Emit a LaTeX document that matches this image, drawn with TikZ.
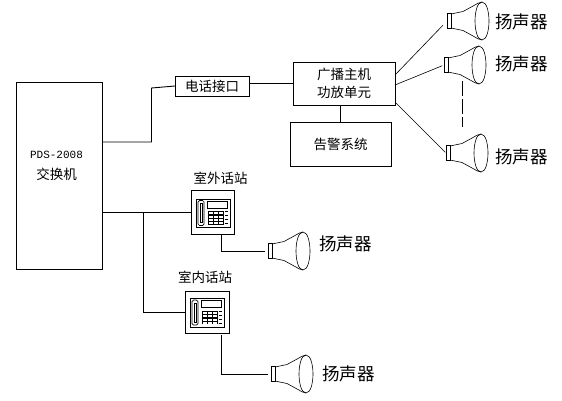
\documentclass[tikz,border=0pt]{standalone}
\usepackage{fontspec}
\newfontfamily\cjk{Noto Sans CJK SC}
\setmonofont{Liberation Mono}
\usetikzlibrary{positioning}

\begin{document}
\begin{tikzpicture}[
    x=1pt, y=-1pt,
    line width=0.9pt,
    font=\cjk\fontsize{13.5}{18}\selectfont,
    box/.style={draw, minimum width=#1, align=center, inner sep=0pt, outer sep=0pt},
    label/.style={inner sep=0pt, outer sep=0pt, align=center},
    spklabel/.style={label, font=\cjk\fontsize{17.5}{18}\selectfont},
    flow/.style={line width=0.9pt},
    thin flow/.style={line width=0.6pt},
    speaker/.pic={
      \draw[line width=0.6pt] (-35,-7.5) rectangle (-31,7.5);
      \draw[line width=0.6pt] (-31,-7) -- (-19,-9.5) -- (-8,-15.5) .. controls (-5,-17.5) and (-3,-18.5) .. (0,-19)
        .. controls (5,-19) and (7,-8) .. (7,0) .. controls (7,8) and (5,19) .. (0,19)
        .. controls (-3,18.5) and (-5,17.5) .. (-8,15.5) -- (-19,9.5) -- (-31,7);
      \draw[line width=0.6pt] (0,-19) .. controls (-5,-19) and (-7,-8) .. (-7,0) .. controls (-7,8) and (-5,19) .. (0,19);
      \coordinate (-neck) at (-35,0);
      \coordinate (-rim) at (7,0);
    },
    deskphone/.pic={
      \draw[line width=0.8pt] (-17,-13.5) rectangle (17,15);
      \draw[line width=0.7pt, rounded corners=1.5pt] (-15,-12) rectangle (-9,13);
      \draw[line width=0.7pt] (-13,-9) rectangle (-10.5,10);
      \draw[line width=0.7pt] (-6,-11.5) rectangle (14,-4.5);
      \fill (-5,-1.5) rectangle (10.5,12);
      \foreach \kx in {-4,1,6} \foreach \ky in {-0.5,3,6.5,9.5}
        \fill[white] (\kx,\ky) rectangle +(3.6,2.2);
      \foreach \ky in {-1,3,7,11}
        \draw[line width=0.9pt] (11.5,\ky) -- (15,\ky);
    },
]
\useasboundingbox (0,0) rectangle (562,400);

% =====================  EXCHANGE AND BROADCAST  =====================
\node[box=86pt, minimum height=187pt] at (59.5,176) (exch) {};
\node[label] at ([xshift=-3pt,yshift=10pt]exch.center) (exchlabel)
  {{\fontsize{11}{11}\selectfont\ttfamily PDS-2008}\\[3pt]交换机};
\node[box=74pt, minimum height=20pt] at (212,86) (iface) {电话接口};
\node[box=102pt, minimum height=43pt, right=44pt of iface, yshift=2.5pt] (host) {广播主机\\功放单元};
\node[box=101pt, minimum height=44pt, below=17pt of host, xshift=-3.5pt] (alarm) {告警系统};

% the two stations
\node[box=43pt, minimum height=44pt] at (213,212.5) (outdoor) {};
\node[box=44pt, minimum height=42pt] at (207,312) (indoor) {};
\pic at (outdoor.center) {deskphone};
\pic at (indoor.center) {deskphone};
\node[label, above=6pt of outdoor, xshift=7.5pt] (outlabel) {室外话站};
\node[label, above=7pt of indoor, xshift=-2pt] (inlabel) {室内话站};

% =====================  SPEAKERS  =====================
\pic (spka) at (482,21) {speaker};
\pic (spkb) at (479,65) {speaker};
\pic (spkc) at (481,153) {speaker};
\pic (spkd) at (303,251) {speaker};
\pic (spke) at (306,374) {speaker};
\node[spklabel, right=6pt of spka-rim, yshift=-1pt] (texta) {扬声器};
\node[spklabel, right=9pt of spkb-rim, yshift=1pt] (textb) {扬声器};
\node[spklabel, right=7pt of spkc-rim, yshift=-4pt] (textc) {扬声器};
\node[spklabel, right=9pt of spkd-rim, yshift=7pt] (textd) {扬声器};
\node[spklabel, right=9pt of spke-rim] (texte) {扬声器};

% =====================  CONNECTIONS  =====================
\coordinate (upper) at (exch.east |- 0,142);
\coordinate (lower) at (exch.east |- outdoor.west);
\draw[flow] (upper) -| (151.5,88) -- (iface.west);
\draw[flow] (iface.east |- host.west) -- (host.west);
\draw[flow] (host.south -| alarm.north) -- (alarm.north);
\draw[flow] (lower) -- (outdoor.west);
\draw[flow] (143,0 |- lower) |- (indoor.west);
\draw[flow] (outdoor.south -| 221.5,0) |- ([xshift=-3pt]spkd-neck);
\draw[flow] ([yshift=-2pt]221.5,0 |- indoor.south) |- ([xshift=-3pt]spke-neck);

\draw[thin flow, shorten >=6pt] (host.east |- 0,75) -- (spka-neck);
\draw[thin flow, shorten >=2pt] (host.east |- 0,85) -- (spkb-neck);
\draw[thin flow, shorten >=1pt] (host.east |- 0,102) -- (spkc-neck);

\coordinate (dashtop) at (462.5,81);
\coordinate (dashend) at (462.5,127);
\draw[thin flow, dash pattern=on 15pt off 3pt] (dashtop) -- (dashend);

\end{tikzpicture}
\end{document}
